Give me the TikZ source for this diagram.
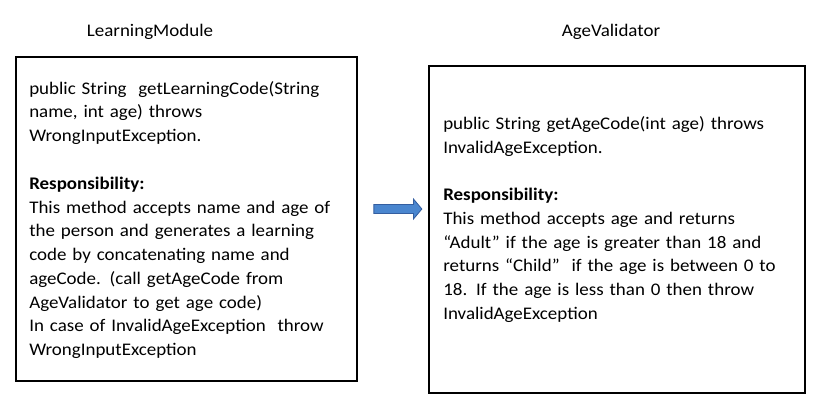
\documentclass[tikz,border=0pt]{standalone}
\usepackage{fontspec}
\setmainfont{Carlito}[FakeStretch=1.07,WordSpace=0.5]
\usetikzlibrary{shapes.arrows}
\definecolor{flowfill}{RGB}{74,134,207}
\definecolor{flowedge}{RGB}{52,94,160}
\begin{document}
\begin{tikzpicture}[x=0.025cm,y=-0.025cm,every node/.style={font=\fontsize{12.6}{16.9}\selectfont,inner sep=0pt},
  classbox/.style={draw,line width=1.3pt,anchor=north west},
  body/.style={anchor=north west,align=left,text width=9cm}]
\useasboundingbox (0,0) rectangle (820,400);
\node (lmname) at (150,32) {LearningModule};
\node (avname) at (611,32) {AgeValidator};
\node[classbox,minimum width=8.525cm,minimum height=8.1cm] (lm) at (15,56) {};
\node[classbox,minimum width=9.4cm,minimum height=8.175cm] (av) at (428,65) {};
\node[body] (lmtext) at (29,81) {public String\ \ getLearningCode(String\\ name, int age) throws\\ WrongInputException.\\[16.9pt]
  \textbf{Responsibility:}\\ This method accepts name and age of\\ the person and generates a learning\\ code by concatenating name and\\
  ageCode. (call getAgeCode from\\ AgeValidator to get age code)\\ In case of InvalidAgeException\ \ throw\\ WrongInputException};
\node[body] (avtext) at (443,116) {public String getAgeCode(int age) throws\\ InvalidAgeException.\\[16.9pt]
  \textbf{Responsibility:}\\ This method accepts age and returns\\ “Adult” if the age is greater than 18 and\\
  returns “Child”\ \ if the age is between 0 to\\ 18. If the age is less than 0 then throw\\ InvalidAgeException};
\node[single arrow,draw=flowedge,fill=flowfill,line width=0.6pt,text height=0.1cm,text depth=0.1cm,minimum width=0.475cm,
  minimum height=1.2cm,single arrow head extend=0.1375cm,single arrow tip angle=100] (flow) at (396,209) {};
\end{tikzpicture}
\end{document}
